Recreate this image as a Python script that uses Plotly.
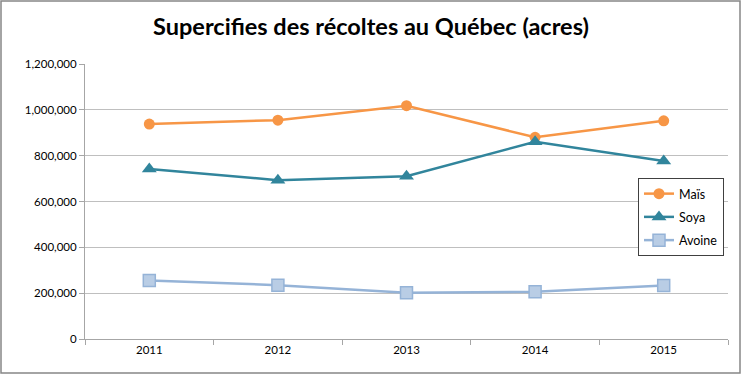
import plotly.graph_objects as go

years = ["2011", "2012", "2013", "2014", "2015"]
mais = [938000, 955000, 1018000, 880000, 952000]
soya = [742000, 693000, 710000, 861000, 777000]
avoine = [255000, 235000, 202000, 206000, 233000]
y_ticks = [0, 200000, 400000, 600000, 800000, 1000000, 1200000]
y_tick_labels = ["0", "200,000", "400,000", "600,000", "800,000", "1,000,000", "1,200,000"]

FONT = "Lato, Calibri, Carlito, sans-serif"

fig = go.Figure()
fig.add_trace(go.Scatter(x=years, y=mais, name="Maïs", mode="lines+markers", legendgroup="a",
                         line=dict(color="#F79646", width=2.5),
                         marker=dict(symbol="circle", size=11, color="#F79646")))
fig.add_trace(go.Scatter(x=years, y=soya, name="Soya", mode="lines+markers", legendgroup="b",
                         line=dict(color="#31859C", width=2.5),
                         marker=dict(symbol="triangle-up", size=13, color="#31859C")))
fig.add_trace(go.Scatter(x=years, y=avoine, name="Avoine", mode="lines+markers", legendgroup="c",
                         line=dict(color="#95B3D7", width=2.5),
                         marker=dict(symbol="square", size=12, color="#B9CDE5",
                                     line=dict(color="#95B3D7", width=1.5))))

W, H = 742, 375
L, R, T, B = 85, 14, 64, 36
pw, ph = W - L - R, H - T - B

fig.update_layout(
    width=W, height=H,
    margin=dict(l=L, r=R, t=T, b=B),
    paper_bgcolor="white", plot_bgcolor="white",
    font=dict(family=FONT, size=11.5, color="#000000"),
    title=dict(text="<b>Supercifies des récoltes au Québec (acres)</b>",
               x=0.5, xanchor="center", y=0.928, yanchor="middle",
               font=dict(family=FONT, size=23.5, color="#000000")),
    legend=dict(x=(638 - L) / pw, y=(339 - 178) / ph, xanchor="left", yanchor="top",
                bgcolor="white", bordercolor="#404040", borderwidth=1,
                font=dict(family=FONT, size=12.5, color="#000000"),
                tracegroupgap=4, itemwidth=30),
    xaxis=dict(type="category", showgrid=False, showline=True, linecolor="#A6A6A6",
               linewidth=1, ticks="outside", tickson="boundaries", ticklen=5,
               tickcolor="#A6A6A6", range=[-0.5, 4.5]),
    yaxis=dict(range=[0, 1200000], tickvals=y_ticks, ticktext=y_tick_labels,
               showgrid=True, gridcolor="#BFBFBF", gridwidth=1,
               showline=True, linecolor="#A6A6A6", linewidth=1,
               ticks="outside", ticklen=5, tickcolor="#A6A6A6", zeroline=False),
    shapes=[dict(type="rect", xref="paper", yref="paper",
                 x0=(1 - L) / pw, x1=(740 - L) / pw,
                 y0=(339 - 373) / ph, y1=(339 - 1) / ph,
                 line=dict(color="#868686", width=1.5), layer="below")],
)

fig.write_html("out.html", config={"displayModeBar": False},
               post_script="document.body.style.margin='0';document.body.style.overflow='hidden';")
